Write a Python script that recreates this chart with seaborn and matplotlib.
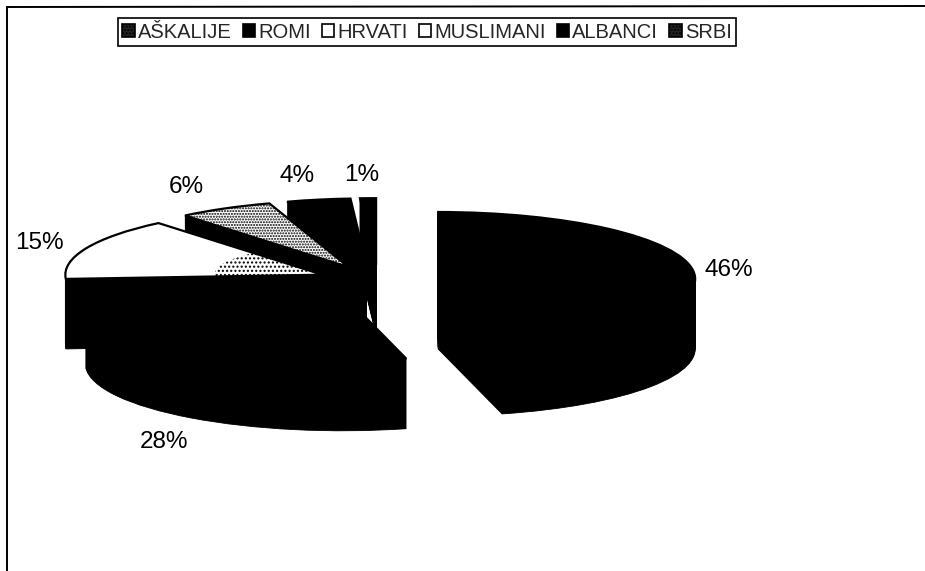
import matplotlib
matplotlib.use("Agg")
import matplotlib.pyplot as plt
import seaborn as sns
from matplotlib.lines import Line2D
from matplotlib.patches import Patch

# ---- data ----
categories = ["AŠKALIJE", "ROMI", "HRVATI", "MUSLIMANI", "ALBANCI", "SRBI"]
shares = [46, 28, 15, 6, 4, 1]
top_colors = ["black", "black", "white", "white", "black", "black"]
top_hatches = [None, None, None, "......", None, None]
legend_colors = ["#222222", "black", "white", "white", "black", "#222222"]

# ---- layout (pixels on the 925x571 canvas) ----
W, H = 925, 571
CX, CY = 378, 281        # centre of the unexploded pie
RX, RY = 257, 67         # ellipse half-axes
DEPTH_PX = 70
EXPLODE = 0.236
label_xy = [(729, 270), (164, 442), (39, 243), (186, 187), (297, 176), (362, 175)]
paint_rank = [5, 4, 3, 2, 1, 0]   # back slices first

sns.set_theme(style="white")
plt.rcParams["font.family"] = ["Liberation Sans", "DejaVu Sans"]

fig = plt.figure(figsize=(W / 100, H / 100), dpi=100, facecolor="white")
ax = fig.add_axes([0, 0, 1, 1])
palette = sns.color_palette(top_colors)
explode = [EXPLODE] * len(shares)

# side walls: stacked black copies of the pie, lowest first
for step in range(DEPTH_PX, 0, -1):
    wedges, _ = ax.pie(shares, explode=explode, startangle=90, counterclock=False,
                       colors=["black"] * len(shares), center=(0, -step / RY),
                       wedgeprops={"linewidth": 0.6, "edgecolor": "black"})
    for w, r in zip(wedges, paint_rank):
        w.set_zorder(r * 1000 + DEPTH_PX - step)

# top faces
wedges, _ = ax.pie(shares, explode=explode, startangle=90, counterclock=False,
                   colors=palette, wedgeprops={"linewidth": 1.6, "edgecolor": "black"})
for w, r, h in zip(wedges, paint_rank, top_hatches):
    w.set_zorder(r * 1000 + 500)
    if h:
        w.set_hatch(h)

# speckle near the tip of the HRVATI slice
inner, _ = ax.pie(shares, explode=explode, startangle=90, counterclock=False,
                  radius=0.42, colors=palette)
for i, (w, r) in enumerate(zip(inner, paint_rank)):
    w.set_zorder(r * 1000 + 400 + 200)
    if categories[i] == "HRVATI":
        w.set_facecolor("none")
        w.set_edgecolor("black")
        w.set_linewidth(0)
        w.set_hatch("....")
    else:
        w.set_visible(False)

ax.set_aspect("auto")
ax.set_xlim(-CX / RX, (W - CX) / RX)
ax.set_ylim((CY - H) / RY, CY / RY)
ax.axis("off")

# percentage labels
for v, (px, py) in zip(shares, label_xy):
    fig.text(px / W, 1 - py / H, f"{v}%", ha="center", va="center",
             fontsize=17.5, color="black")

# legend
handles = [Patch(facecolor=c, edgecolor="black", linewidth=1.2, hatch="....." if c == "#222222" else None)
           for c in legend_colors]
leg = fig.legend(handles, categories, ncol=6, loc="center",
                 bbox_to_anchor=(427 / W, 1 - 32 / H), frameon=True, fancybox=False,
                 edgecolor="black", framealpha=1, fontsize=14.5,
                 handlelength=0.62, handleheight=0.62, handletextpad=0.15,
                 columnspacing=0.55, borderpad=0.22, borderaxespad=0)
leg.get_frame().set_linewidth(1.2)

# chart-area frame
fig.add_artist(Line2D([7 / W, 7 / W], [0, 1 - 7 / H], color="black", lw=1.4))
fig.add_artist(Line2D([7 / W, 1], [1 - 7 / H, 1 - 6 / H], color="black", lw=1.4))

fig.savefig("out.png", dpi=100)
